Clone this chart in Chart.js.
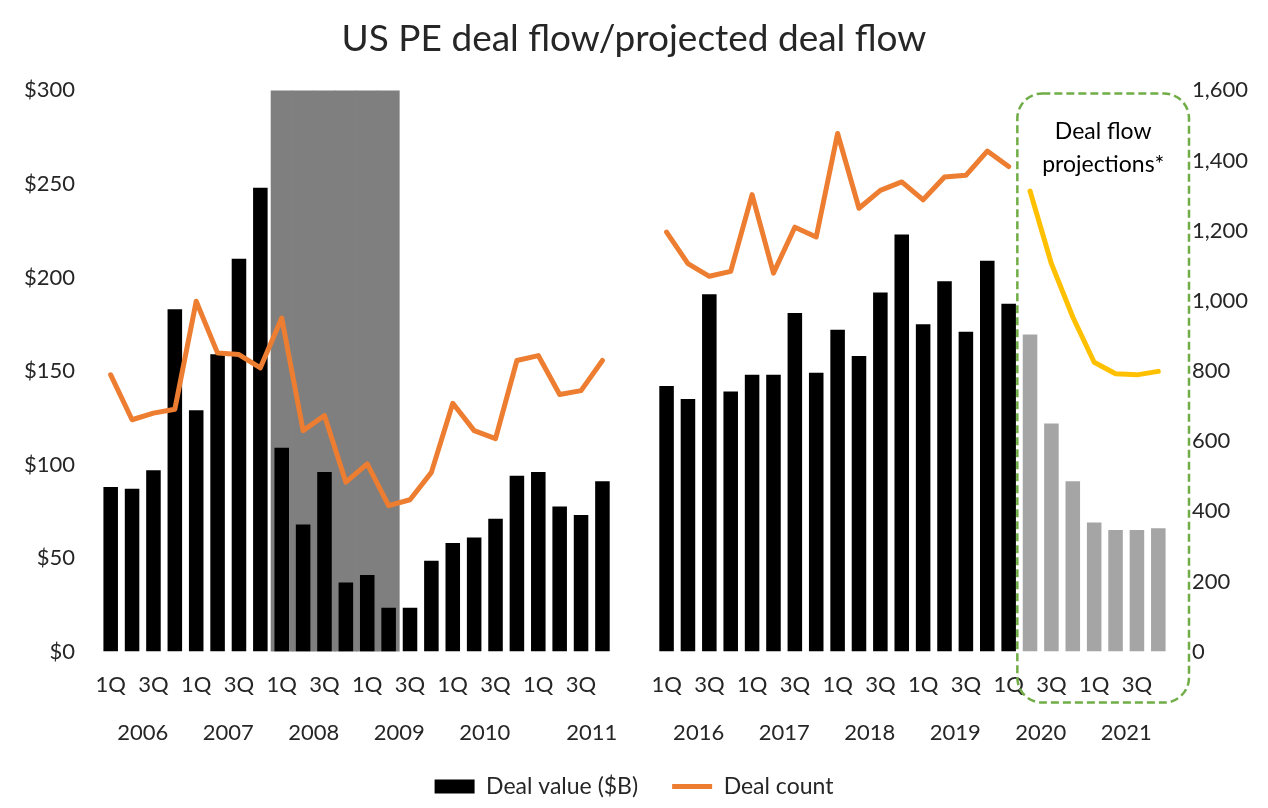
<!DOCTYPE html>
<html>
<head>
<meta charset="utf-8">
<script src="https://cdn.jsdelivr.net/npm/chart.js@4.4.1/dist/chart.umd.min.js"></script>
<style>
  html, body { margin: 0; padding: 0; background: #fff; }
  #wrap { width: 1268px; height: 808px; }
</style>
</head>
<body>
<div id="wrap"><canvas id="dealChart"></canvas></div>
<script>
const quarterNames = ['1Q', '2Q', '3Q', '4Q'];
const yearsBefore = ['2006', '2007', '2008', '2009', '2010', '2011'];
const yearsAfter = ['2016', '2017', '2018', '2019', '2020', '2021'];
const gapSlots = 2;

// deal value ($B), per quarter
const dealValueBefore = [88, 87, 97, 183, 129, 159, 210, 248, 109, 68, 96, 37, 41, 23.5, 23.5, 48.5, 58, 61, 71, 94, 96, 77.5, 73, 91];
const dealValueAfter = [142, 135, 191, 139, 148, 148, 181, 149, 172, 158, 192, 223, 175, 198, 171, 209, 186];
const projectedValue = [169.5, 122, 91, 69, 65, 65, 66];

// deal count
const dealCountBefore = [789, 661, 680, 691, 999, 851, 847, 809, 951, 630, 673, 483, 535, 416, 433, 511, 708, 630, 607, 830, 844, 733, 744, 830];
const dealCountAfter = [1196, 1106, 1070, 1084, 1303, 1079, 1210, 1182, 1477, 1264, 1315, 1339, 1288, 1353, 1358, 1427, 1383];
const projectedCount = [1313, 1106, 954, 825, 792, 789, 799];

const recessionStart = '2008 1Q';
const recessionEnd = '2009 2Q';
const valueMax = 300;
const countMax = 1600;

const textColor = '#262626';
const fontFamily = 'Lato, "Open Sans", sans-serif';

// categories (the two empty slots after 2011 belong to the 2011 group, like the original axis)
const cats = [];
yearsBefore.forEach(y => quarterNames.forEach(q => cats.push({ year: y, q: q })));
for (let i = 0; i < gapSlots; i++) cats.push({ year: yearsBefore[yearsBefore.length - 1], q: '' });
yearsAfter.forEach(y => quarterNames.forEach(q => cats.push({ year: y, q: q })));
const labels = cats.map((c, i) => c.q ? c.year + ' ' + c.q : 'gap' + i);

const gapNulls = Array(gapSlots).fill(null);
const histValues = dealValueBefore.concat(gapNulls, dealValueAfter);
const valueData = histValues.concat(projectedValue);
const valueColors = valueData.map((v, i) => i < histValues.length ? '#000000' : '#A5A5A5');
const countData = dealCountBefore.concat(gapNulls, dealCountAfter, projectedCount.map(() => null));
const projData = histValues.map(() => null).concat(projectedCount);
const shadeFrom = labels.indexOf(recessionStart);
const shadeTo = labels.indexOf(recessionEnd);
const shadeData = labels.map((l, i) => (i >= shadeFrom && i <= shadeTo) ? valueMax : null);
const projFirst = histValues.length;

const yearLabels = {
  id: 'yearLabels',
  afterDraw(chart) {
    const x = chart.scales.x;
    const ctx = chart.ctx;
    const groups = {};
    cats.forEach((c, i) => {
      if (!groups[c.year]) groups[c.year] = [i, i];
      groups[c.year][1] = i;
    });
    ctx.save();
    ctx.font = '22px ' + fontFamily;
    ctx.fillStyle = textColor;
    ctx.textAlign = 'center';
    ctx.textBaseline = 'middle';
    Object.keys(groups).forEach(y => {
      const g = groups[y];
      const px = (x.getPixelForValue(g[0]) + x.getPixelForValue(g[1])) / 2;
      ctx.fillText(y, px, chart.chartArea.bottom + 81);
    });
    ctx.restore();
  }
};

const projectionBox = {
  id: 'projectionBox',
  afterDraw(chart) {
    const x = chart.scales.x;
    const area = chart.chartArea;
    const ctx = chart.ctx;
    const step = x.getPixelForValue(1) - x.getPixelForValue(0);
    const left = x.getPixelForValue(projFirst) - step / 2 - 2;
    const right = area.right + 20;
    const top = area.top + 3;
    const bottom = area.bottom + 51;
    const r = 25;
    ctx.save();
    ctx.strokeStyle = '#70AD47';
    ctx.lineWidth = 2.5;
    ctx.setLineDash([8, 4]);
    ctx.beginPath();
    ctx.moveTo(left + r, top);
    ctx.arcTo(right, top, right, bottom, r);
    ctx.arcTo(right, bottom, left, bottom, r);
    ctx.arcTo(left, bottom, left, top, r);
    ctx.arcTo(left, top, right, top, r);
    ctx.closePath();
    ctx.stroke();
    ctx.setLineDash([]);
    ctx.font = '23px ' + fontFamily;
    ctx.fillStyle = '#000';
    ctx.textAlign = 'center';
    ctx.textBaseline = 'middle';
    const cx = (left + right) / 2;
    ctx.fillText('Deal flow', cx, area.top + 41);
    ctx.fillText('projections*', cx, area.top + 74);
    ctx.restore();
  }
};

new Chart(document.getElementById('dealChart'), {
  type: 'bar',
  data: {
    labels: labels,
    datasets: [
      {
        type: 'line',
        label: 'Deal count',
        data: countData,
        yAxisID: 'y2',
        borderColor: '#ED7D31',
        backgroundColor: '#ED7D31',
        borderWidth: 5,
        borderJoinStyle: 'round',
        borderCapStyle: 'round',
        pointRadius: 0,
        pointStyle: 'line',
        tension: 0,
        spanGaps: false,
        order: 1
      },
      {
        type: 'line',
        label: 'Projected deal count',
        data: projData,
        yAxisID: 'y2',
        borderColor: '#FFC000',
        borderWidth: 5,
        borderJoinStyle: 'round',
        borderCapStyle: 'round',
        pointRadius: 0,
        tension: 0,
        order: 2
      },
      {
        label: 'Deal value ($B)',
        data: valueData,
        yAxisID: 'y',
        backgroundColor: valueColors,
        borderWidth: 0,
        pointStyle: 'rect',
        grouped: false,
        categoryPercentage: 1,
        barPercentage: 0.68,
        order: 3
      },
      {
        label: 'Recession',
        data: shadeData,
        yAxisID: 'y',
        backgroundColor: '#7F7F7F',
        borderWidth: 0,
        grouped: false,
        categoryPercentage: 1,
        barPercentage: 1,
        order: 4
      }
    ]
  },
  options: {
    responsive: true,
    maintainAspectRatio: false,
    animation: false,
    layout: { padding: 0 },
    plugins: {
      title: {
        display: true,
        text: 'US PE deal flow/projected deal flow',
        color: textColor,
        font: { family: fontFamily, size: 37, weight: 'normal' },
        padding: { top: 17, bottom: 29 }
      },
      legend: {
        position: 'bottom',
        labels: {
          usePointStyle: true,
          pointStyleWidth: 40,
          boxHeight: 14,
          padding: 34,
          color: textColor,
          font: { family: fontFamily, size: 23 },
          filter: item => item.text === 'Deal value ($B)' || item.text === 'Deal count',
          sort: (a, b) => b.datasetIndex - a.datasetIndex
        }
      },
      tooltip: { enabled: false }
    },
    scales: {
      x: {
        grid: { display: false, drawTicks: false },
        border: { display: false },
        ticks: {
          autoSkip: false,
          maxRotation: 0,
          minRotation: 0,
          padding: 20,
          color: textColor,
          font: { family: fontFamily, size: 22 },
          callback: (v, i) => (cats[i].q === '1Q' || cats[i].q === '3Q') ? cats[i].q : ''
        },
        afterFit: s => { s.height += 23; }
      },
      y: {
        position: 'left',
        min: 0,
        max: valueMax,
        grid: { display: false, drawTicks: false },
        border: { display: false },
        ticks: {
          stepSize: 50,
          padding: 25,
          color: textColor,
          font: { family: fontFamily, size: 22 },
          callback: v => '$' + v
        },
        afterFit: s => { s.width = 100; }
      },
      y2: {
        position: 'right',
        min: 0,
        max: countMax,
        grid: { display: false, drawTicks: false },
        border: { display: false },
        ticks: {
          stepSize: 200,
          padding: 23,
          color: textColor,
          font: { family: fontFamily, size: 22 }
        },
        afterFit: s => { s.width = 99; }
      }
    }
  },
  plugins: [yearLabels, projectionBox]
});
</script>
</body>
</html>
